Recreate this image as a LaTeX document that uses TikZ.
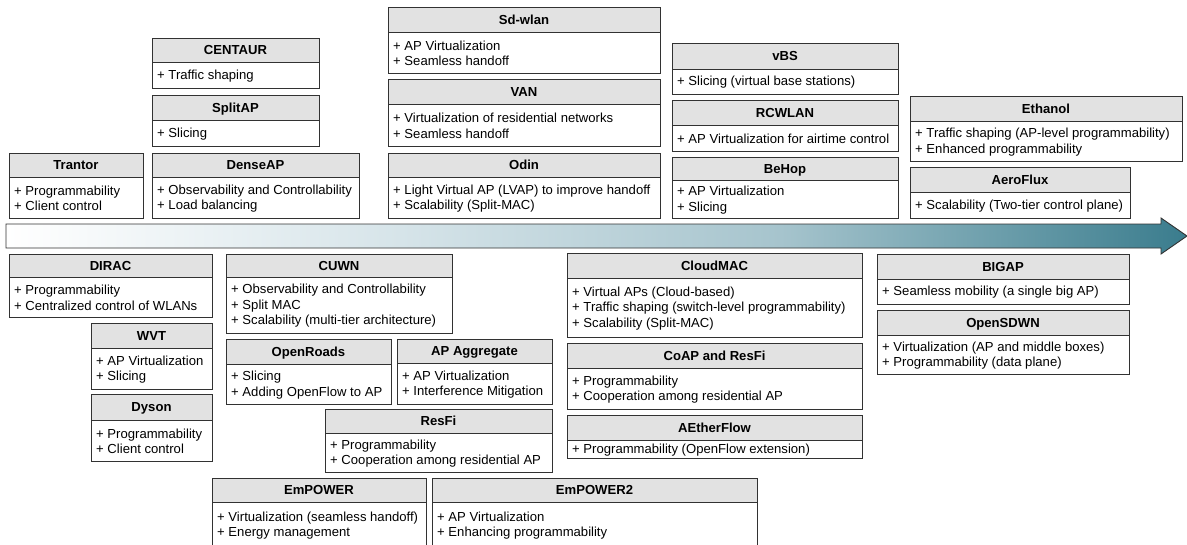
\documentclass[tikz,border=0pt]{standalone}
\usepackage{fontspec}
\setmainfont{Liberation Sans}
\usetikzlibrary{calc}

\definecolor{headgray}{RGB}{226,226,226}
\definecolor{edgegray}{RGB}{50,50,50}
\definecolor{tlA}{RGB}{214,228,233}
\definecolor{tlB}{RGB}{166,196,205}
\definecolor{tlC}{RGB}{108,158,171}
\definecolor{tlD}{RGB}{58,124,141}

\pgfdeclarehorizontalshading{timeline}{100bp}{color(0bp)=(white); color(25bp)=(white); color(41.7bp)=(tlA); color(57.8bp)=(tlB); color(67bp)=(tlC); color(75bp)=(tlD); color(100bp)=(tlD)}

\tikzset{
	boxhead/.style={draw=edgegray, fill=headgray, line width=0.9pt},
	boxbody/.style={draw=edgegray, fill=white, line width=0.9pt},
	titletext/.style={font=\bfseries\fontsize{13.1}{15.5}\selectfont, anchor=base, inner sep=0},
	itemtext/.style={font=\fontsize{13.1}{15.5}\selectfont, anchor=west, align=left, inner sep=0}
}

\def\techbox(#1)(#2,#3)(#4,#5,#6)#7#8{%
	\draw[boxhead] (#2,#4) rectangle (#3,#5);
	\draw[boxbody] (#2,#5) rectangle (#3,#6);
	\node[titletext] (#1-title) at ({(#2+#3)/2},{(#4+#5)/2+4.7}) {#7};
	\node[itemtext] (#1-items) at (#2+5,{(#5+#6)/2+1}) {#8};
}

\begin{document}
\begin{tikzpicture}[x=1pt, y=-1pt]
			%%%%% START %%%%%
			\useasboundingbox (0,0) rectangle (1187,544);
			
			\draw[draw=edgegray, line width=0.9pt, shade, shading=timeline] (6,224) -- (1161,224) -- (1161,218) -- (1187,236) -- (1161,254) -- (1161,248) -- (6,248) -- cycle;
			
			\techbox(trantor)(9,143)(153,177,218){Trantor}{+ Programmability\\+ Client control}
			\techbox(denseap)(152,359)(153,177,218){DenseAP}{+ Observability and Controllability\\+ Load balancing}
			\techbox(splitap)(152,319)(95,120,146){SplitAP}{+ Slicing}
			\techbox(centaur)(152,319)(38,62,88){CENTAUR}{+ Traffic shaping}
			
			\techbox(odin)(388,660)(153,177,218){Odin}{+ Light Virtual AP (LVAP) to improve handoff\\+ Scalability (Split-MAC)}
			\techbox(van)(388,660)(79,104,146){VAN}{+ Virtualization of residential networks\\+ Seamless handoff}
			\techbox(sdwlan)(388,660)(7,32,73){Sd-wlan}{+ AP Virtualization\\+ Seamless handoff}
			
			\techbox(behop)(672,898)(157,180,218){BeHop}{+ AP Virtualization\\+ Slicing}
			\techbox(rcwlan)(672,898)(100,125,151){RCWLAN}{+ AP Virtualization for airtime control}
			\techbox(vbs)(672,898)(43,69,94){vBS}{+ Slicing (virtual base stations)}
			
			\techbox(ethanol)(910,1182)(96,121,161){Ethanol}{+ Traffic shaping (AP-level programmability)\\+ Enhanced programmability}
			\techbox(aeroflux)(910,1130)(167,192,218){AeroFlux}{+ Scalability (Two-tier control plane)}
			
			\techbox(dirac)(9,212)(254,277,317){DIRAC}{+ Programmability\\+ Centralized control of WLANs}
			\techbox(wvt)(91,212)(323,348,389){WVT}{+ AP Virtualization\\+ Slicing}
			\techbox(dyson)(91,212)(394,420,461){Dyson}{+ Programmability\\+ Client control}
			
			\techbox(cuwn)(226,452)(254,277,333){CUWN}{+ Observability and Controllability\\+ Split MAC\\+ Scalability (multi-tier architecture)}
			\techbox(openroads)(226,391)(339,364,404){OpenRoads}{+ Slicing\\+ Adding OpenFlow to AP}
			\techbox(apaggr)(397,552)(339,363,404){AP Aggregate}{+ AP Virtualization\\+ Interference Mitigation}
			\techbox(resfi)(325,552)(409,433,472){ResFi}{+ Programmability\\+ Cooperation among residential AP}
			
			\techbox(empower)(212,426)(478,502,547){EmPOWER}{+ Virtualization (seamless handoff)\\+ Energy management}
			\techbox(empowertwo)(432,757)(478,502,547){EmPOWER2}{+ AP Virtualization\\+ Enhancing programmability}
			
			\techbox(cloudmac)(567,862)(253,278,337){CloudMAC}{+ Virtual APs (Cloud-based)\\+ Traffic shaping (switch-level programmability)\\+ Scalability (Split-MAC)}
			\techbox(coap)(567,862)(343,368,409){CoAP and ResFi}{+ Programmability\\+ Cooperation among residential AP}
			\techbox(aetherflow)(567,862)(415,440,458){AEtherFlow}{+ Programmability (OpenFlow extension)}
			
			\techbox(bigap)(877,1129)(254,279,304){BIGAP}{+ Seamless mobility (a single big AP)}
			\techbox(opensdwn)(877,1129)(310,335,374){OpenSDWN}{+ Virtualization (AP and middle boxes)\\+ Programmability (data plane)}
			
			%%%%% END %%%%%
\end{tikzpicture}
\end{document}
